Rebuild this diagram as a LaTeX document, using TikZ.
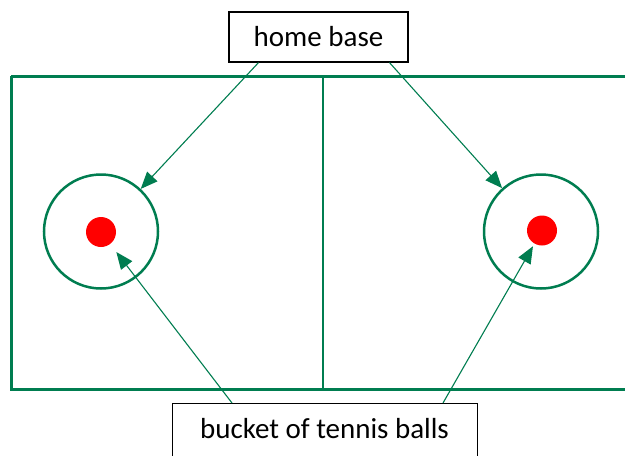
\documentclass[tikz,border=0pt]{standalone}
\usepackage{fontspec}
\setmainfont{Carlito}
\usetikzlibrary{arrows.meta}
\definecolor{fieldgreen}{RGB}{0,125,80}
\tikzset{
  labelbox/.style={draw=black, line width=1.2pt, fill=white, font=\fontsize{29}{34}\selectfont, inner sep=0pt},
  ring/.style={circle, draw=fieldgreen, line width=2.5pt, minimum size=114pt, inner sep=0pt},
  ball/.style={circle, fill=red, minimum size=30pt, inner sep=0pt},
  pointer/.style={draw=fieldgreen, line width=1.1pt, -{Triangle[length=17pt,width=14pt]}},
}
\begin{document}
\begin{tikzpicture}[x=1pt,y=-1pt]
\useasboundingbox (0,0) rectangle (625,456);
\clip (0,0) rectangle (625,456);
% field
\draw[fieldgreen, line width=3pt] (11,76) -- (640,76) (11,76) -- (11,389) -- (640,389);
\draw[fieldgreen, line width=1.8pt] (323,76) -- (323,389);
% rings and balls
\node[ring] (lring) at (101,231.5) {};
\node[ring] (rring) at (541,231.5) {};
\node[ball] (lball) at (101,232) {};
\node[ball] (rball) at (542,230.5) {};
% labels
\node[labelbox, minimum width=179pt, minimum height=50pt] (home) at (318.5,37) {home base};
\node[labelbox, minimum width=305pt, minimum height=70pt, anchor=north west] (bucket) at (172,403) {};
\node[font=\fontsize{29}{34}\selectfont, inner sep=0pt] (buckettext) at (324.5,429) {bucket of tennis balls};
% arrows
\coordinate (h1) at ([xshift=-60pt]home.south);
\coordinate (h2) at ([xshift=71pt]home.south);
\coordinate (b1) at ([xshift=60pt]bucket.north west);
\coordinate (b2) at ([xshift=271pt]bucket.north west);
\draw[pointer] (h1) -- (lring);
\draw[pointer] (h2) -- (rring);
\draw[pointer, shorten >=10pt] (b1) -- (lball);
\draw[pointer, shorten >=3pt] (b2) -- (rball);
\end{tikzpicture}
\end{document}
